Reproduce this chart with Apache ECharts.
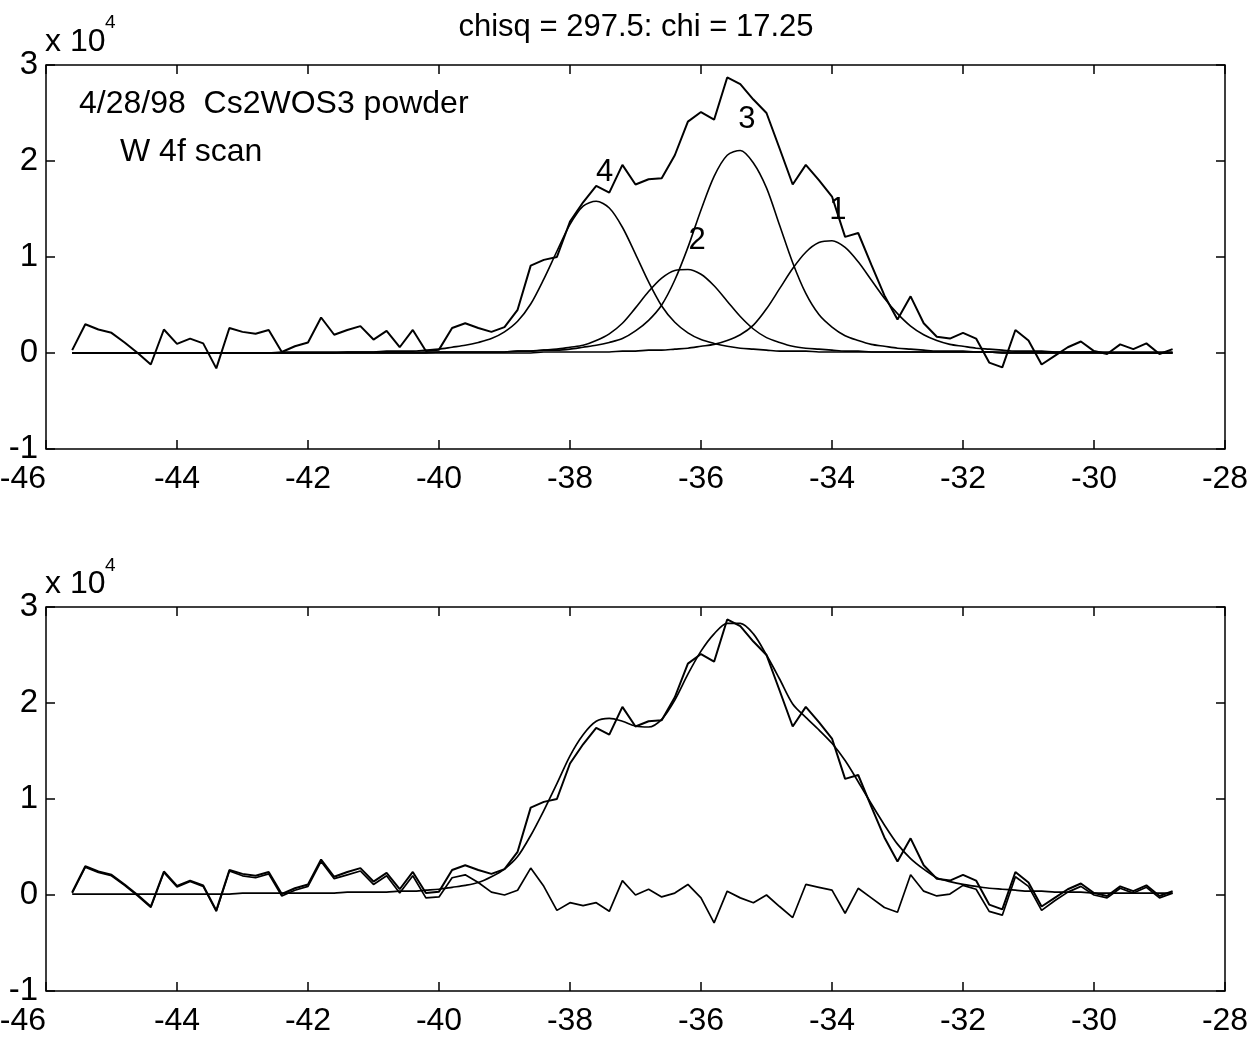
<!DOCTYPE html>
<html><head><meta charset="utf-8">
<script src="https://cdn.jsdelivr.net/npm/echarts@6/dist/echarts.min.js"></script>
<style>html,body{margin:0;padding:0;background:#fff}#c{width:1249px;height:1042px}</style>
</head><body><div id="c"></div>
<script>
// Binding energy grid (eV)
const energy = [-45.6,-45.4,-45.2,-45.0,-44.8,-44.6,-44.4,-44.2,-44.0,-43.8,
-43.6,-43.4,-43.2,-43.0,-42.8,-42.6,-42.4,-42.2,-42.0,-41.8,
-41.6,-41.4,-41.2,-41.0,-40.8,-40.6,-40.4,-40.2,-40.0,-39.8,
-39.6,-39.4,-39.2,-39.0,-38.8,-38.6,-38.4,-38.2,-38.0,-37.8,
-37.6,-37.4,-37.2,-37.0,-36.8,-36.6,-36.4,-36.2,-36.0,-35.8,
-35.6,-35.4,-35.2,-35.0,-34.8,-34.6,-34.4,-34.2,-34.0,-33.8,
-33.6,-33.4,-33.2,-33.0,-32.8,-32.6,-32.4,-32.2,-32.0,-31.8,
-31.6,-31.4,-31.2,-31.0,-30.8,-30.6,-30.4,-30.2,-30.0,-29.8,
-29.6,-29.4,-29.2,-29.0,-28.8];
// Measured counts (x 10^4)
const counts = [0.03,0.30,0.245,0.21,0.11,0.00,-0.12,0.245,0.095,0.15,
0.10,-0.16,0.26,0.22,0.20,0.24,0.01,0.07,0.11,0.37,
0.19,0.24,0.28,0.14,0.23,0.06,0.24,0.02,0.035,0.26,
0.31,0.26,0.22,0.27,0.45,0.91,0.97,1.00,1.37,1.57,
1.74,1.67,1.96,1.755,1.81,1.82,2.06,2.41,2.51,2.43,
2.87,2.80,2.64,2.50,2.13,1.755,1.96,1.80,1.63,1.21,
1.25,0.92,0.60,0.35,0.59,0.31,0.17,0.15,0.21,0.15,
-0.10,-0.15,0.24,0.13,-0.12,-0.03,0.06,0.12,0.02,-0.01,
0.09,0.04,0.10,-0.01,0.04];
// Fitted components (x 10^4)
const peak1 = [0,0,0,0,0,0,0,0,0,0,
0,0,0,0,0,0,0,0,0,0,
0,0,0,0,0,0,0,0,0,0,
0,0,0,0,0,0,0.01,0.01,0.01,0.01,
0.01,0.01,0.02,0.02,0.03,0.03,0.04,0.05,0.07,0.09,
0.13,0.19,0.29,0.46,0.67,0.88,1.05,1.15,1.17,1.10,
0.95,0.76,0.57,0.41,0.28,0.19,0.13,0.09,0.07,0.05,
0.04,0.03,0.02,0.02,0.02,0.01,0.01,0.01,0.01,0.01,
0.01,0.01,0.01,0.01,0.01];
const peak2 = [0,0,0,0,0,0,0,0,0,0,
0,0,0,0,0,0,0,0,0,0,
0,0,0,0,0,0,0,0,0.01,0.01,
0.01,0.01,0.01,0.01,0.02,0.02,0.03,0.04,0.06,0.08,
0.13,0.20,0.31,0.47,0.64,0.78,0.86,0.87,0.82,0.70,
0.54,0.38,0.25,0.16,0.11,0.07,0.05,0.04,0.03,0.02,
0.02,0.01,0.01,0.01,0.01,0.01,0.01,0.01,0.01,0.01,
0.01,0,0,0,0,0,0,0,0,0,
0,0,0,0,0];
const peak3 = [0,0,0,0,0,0,0,0,0,0,
0,0,0,0,0,0,0,0,0,0,
0,0.01,0.01,0.01,0.01,0.01,0.01,0.01,0.01,0.01,
0.01,0.01,0.01,0.01,0.02,0.02,0.03,0.03,0.04,0.06,
0.08,0.11,0.15,0.23,0.34,0.50,0.76,1.10,1.49,1.84,
2.06,2.11,1.98,1.72,1.33,0.94,0.62,0.40,0.27,0.18,
0.13,0.09,0.07,0.05,0.04,0.03,0.02,0.02,0.02,0.01,
0.01,0.01,0.01,0.01,0.01,0.01,0.01,0.01,0.01,0,
0,0,0,0,0];
const peak4 = [0,0,0,0,0,0,0,0,0,0,
0,0,0,0,0,0,0.01,0.01,0.01,0.01,
0.01,0.01,0.01,0.01,0.02,0.02,0.02,0.03,0.04,0.06,
0.08,0.11,0.15,0.22,0.33,0.51,0.77,1.06,1.34,1.53,
1.58,1.51,1.31,1.03,0.74,0.49,0.32,0.21,0.14,0.10,
0.07,0.05,0.04,0.03,0.02,0.02,0.02,0.01,0.01,0.01,
0.01,0.01,0.01,0.01,0.01,0.01,0.01,0.01,0.01,0.01,
0.01,0,0,0,0,0,0,0,0,0,
0,0,0,0,0];
// Total fit and residual (x 10^4)
const fitTotal = [0.01,0.01,0.01,0.01,0.01,0.01,0.01,0.01,0.01,0.01,
0.01,0.01,0.01,0.02,0.02,0.02,0.02,0.02,0.02,0.02,
0.02,0.03,0.03,0.03,0.03,0.04,0.04,0.05,0.06,0.08,
0.10,0.13,0.19,0.27,0.40,0.62,0.88,1.16,1.45,1.67,
1.81,1.84,1.81,1.76,1.75,1.83,2.03,2.30,2.54,2.72,
2.83,2.83,2.72,2.50,2.25,1.99,1.85,1.72,1.58,1.40,
1.18,0.95,0.73,0.53,0.38,0.27,0.18,0.14,0.11,0.09,
0.07,0.06,0.05,0.04,0.04,0.03,0.03,0.03,0.02,0.02,
0.02,0.02,0.02,0.02,0.02];
const residual = [0.02,0.29,0.235,0.20,0.10,-0.01,-0.13,0.235,0.085,0.14,
0.09,-0.17,0.25,0.20,0.18,0.22,-0.01,0.05,0.09,0.35,
0.17,0.21,0.25,0.11,0.20,0.02,0.20,-0.03,-0.02,0.18,
0.21,0.13,0.03,0.00,0.05,0.28,0.09,-0.16,-0.08,-0.11,
-0.08,-0.17,0.15,0.00,0.06,-0.02,0.02,0.11,-0.03,-0.29,
0.04,-0.03,-0.08,0.00,-0.12,-0.235,0.11,0.08,0.05,-0.19,
0.07,-0.03,-0.13,-0.18,0.21,0.04,-0.01,0.01,0.10,0.06,
-0.17,-0.21,0.19,0.09,-0.16,-0.06,0.03,0.09,0.00,-0.03,
0.07,0.02,0.08,-0.03,0.02];
// Peak label text and anchors (data coordinates)
const peakNames = ['4','2','3','1'];
const peakLabelX = [-37.47,-36.06,-35.30,-33.91];
const peakLabelY = [1.88,1.17,2.43,1.49];
const xTicks = {min:-46, max:-28, step:2};
const yTicks = {min:-1, max:3, step:1};

const FONT = '"Liberation Sans", Arial, Helvetica, sans-serif';
const chart = echarts.init(document.getElementById('c'), null, {renderer:'canvas'});
const pairs = ys => energy.map((x,i)=>[x, ys[i]]);
const tick = {show:true, inside:true, length:9, lineStyle:{color:'#000', width:1.5}};
function xAx(g, pos, lab){
  return {type:'value', gridIndex:g, position:pos, min:xTicks.min, max:xTicks.max, interval:xTicks.step,
    axisLine:{show:false, onZero:false}, axisTick:tick, splitLine:{show:false},
    axisLabel:{show:lab, color:'#000', fontSize:32, fontFamily:FONT, margin:14, alignMinLabel:'right'}};
}
function yAx(g, pos, lab){
  return {type:'value', gridIndex:g, position:pos, min:yTicks.min, max:yTicks.max, interval:yTicks.step,
    axisLine:{show:false, onZero:false}, axisTick:tick, splitLine:{show:false},
    axisLabel:{show:lab, color:'#000', fontSize:33, fontFamily:FONT, margin:8}};
}
function ln(ys, xi, yi, w, smooth){
  return {type:'line', xAxisIndex:xi, yAxisIndex:yi, data:pairs(ys), showSymbol:false, symbol:'none',
    smooth: smooth||false, lineStyle:{color:'#000', width:w}, silent:true, z:3};
}
const compSeries = [peak1, peak2, peak3, peak4].map(p => ln(p, 0, 0, 1.6, 0.3));
const labelSeries = {
  type:'scatter', xAxisIndex:0, yAxisIndex:0, symbolSize:0, silent:true, z:5,
  itemStyle:{color:'#000'},
  data: peakNames.map((n,i)=>({value:[peakLabelX[i], peakLabelY[i]], name:n})),
  label:{show:true, position:'inside', formatter:p=>p.name, fontSize:31, fontFamily:FONT,
    color:'#000', textBorderWidth:0, textBorderColor:'transparent', opacity:1}
};
function txt(t, x, y, size, align){
  return {type:'text', x:x, y:y, silent:true,
    style:{text:t, fill:'#000', font: size+'px '+FONT, textAlign:align||'left', align:align||'left',
      textVerticalAlign:'middle', verticalAlign:'middle'}};
}
const gridBase = {left:46, width:1179, height:384, show:true, borderColor:'#000', borderWidth:1.5,
  backgroundColor:'transparent', containLabel:false, outerBoundsMode:'none'};
chart.setOption({
  animation:false,
  backgroundColor:'#fff',
  grid:[
    Object.assign({top:65}, gridBase),
    Object.assign({top:607}, gridBase)
  ],
  xAxis:[xAx(0,'bottom',true), xAx(0,'top',false), xAx(1,'bottom',true), xAx(1,'top',false)],
  yAxis:[yAx(0,'left',true), yAx(0,'right',false), yAx(1,'left',true), yAx(1,'right',false)],
  series:[
    ln(counts, 0, 0, 2, false),
    ...compSeries,
    labelSeries,
    ln(counts, 2, 2, 2, false),
    ln(fitTotal, 2, 2, 1.7, 0.3),
    ln(residual, 2, 2, 1.7, false)
  ],
  graphic:[
    txt('chisq = 297.5: chi = 17.25', 636, 27, 31, 'center'),
    txt('x 10', 45, 42, 32),
    txt('4', 105, 23, 19),
    txt('x 10', 45, 584, 32),
    txt('4', 105, 566, 19),
    txt('4/28/98  Cs2WOS3 powder', 79, 104, 32),
    txt('W 4f scan', 120, 152, 32)
  ]
});
</script></body></html>
